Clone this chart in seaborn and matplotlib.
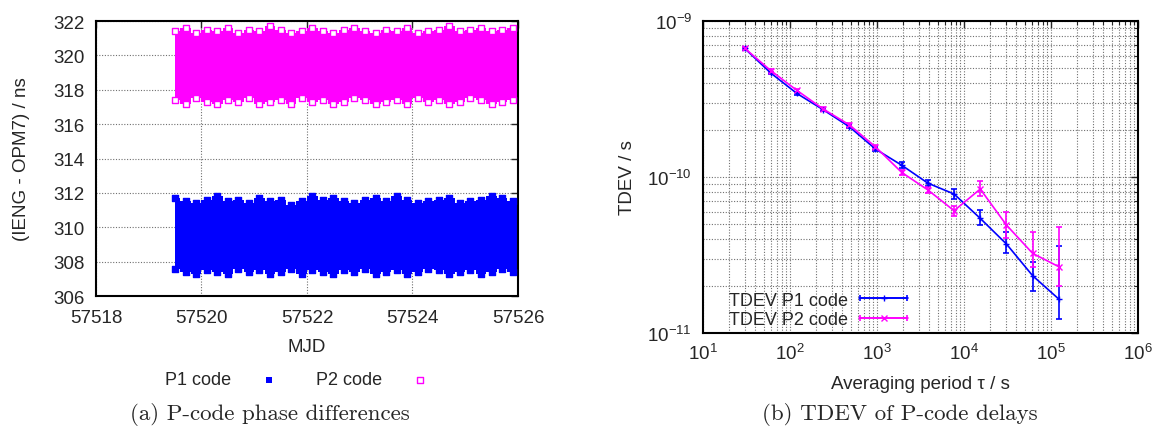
import numpy as np
import matplotlib
matplotlib.use("Agg")
import matplotlib.pyplot as plt
from matplotlib.legend_handler import HandlerErrorbar
from matplotlib.ticker import FixedLocator, LogLocator
import seaborn as sns

# ---- (a) P-code phase differences: envelope of the dense point cloud ----
mjd = [57519.5, 57519.7, 57519.9, 57520.1, 57520.3, 57520.5, 57520.7, 57520.9,
       57521.1, 57521.3, 57521.5, 57521.7, 57521.9, 57522.1, 57522.3, 57522.5,
       57522.7, 57522.9, 57523.1, 57523.3, 57523.5, 57523.7, 57523.9, 57524.1,
       57524.3, 57524.5, 57524.7, 57524.9, 57525.1, 57525.3, 57525.5, 57525.7,
       57525.9, 57526.1]
p1_top = [311.7, 311.5, 311.4, 311.6, 311.8, 311.5, 311.6, 311.4, 311.7, 311.5, 311.6, 311.3,
          311.5, 311.8, 311.6, 311.7, 311.5, 311.4, 311.6, 311.7, 311.5, 311.8, 311.6, 311.4,
          311.5, 311.6, 311.7, 311.4, 311.5, 311.6, 311.8, 311.7, 311.5, 311.4]
p1_bot = [307.6, 307.4, 307.3, 307.5, 307.4, 307.3, 307.6, 307.4, 307.5, 307.3, 307.4, 307.6,
          307.3, 307.5, 307.4, 307.3, 307.5, 307.4, 307.6, 307.3, 307.4, 307.5, 307.3, 307.4,
          307.6, 307.5, 307.3, 307.4, 307.5, 307.3, 307.4, 307.6, 307.4, 307.5]
p2_top = [321.4, 321.6, 321.3, 321.5, 321.4, 321.6, 321.3, 321.5, 321.4, 321.7, 321.5, 321.3,
          321.4, 321.6, 321.4, 321.3, 321.5, 321.6, 321.4, 321.3, 321.5, 321.4, 321.6, 321.3,
          321.4, 321.5, 321.7, 321.4, 321.5, 321.6, 321.4, 321.5, 321.6, 321.3]
p2_bot = [317.4, 317.2, 317.5, 317.3, 317.2, 317.4, 317.3, 317.5, 317.2, 317.3, 317.4, 317.2,
          317.5, 317.3, 317.4, 317.2, 317.3, 317.5, 317.4, 317.2, 317.3, 317.4, 317.2, 317.5,
          317.3, 317.4, 317.2, 317.3, 317.5, 317.4, 317.2, 317.3, 317.4, 317.3]

# ---- (b) TDEV of P-code delays ----
tau = [30, 60, 120, 240, 480, 960, 1920, 3840, 7680, 15360, 30720, 61440, 122880]
tdev_p1 = [6.68e-10, 4.64e-10, 3.43e-10, 2.70e-10, 2.10e-10, 1.51e-10, 1.19e-10,
           9.13e-11, 7.78e-11, 5.43e-11, 3.72e-11, 2.33e-11, 1.65e-11]
p1_lo = [6.55e-10, 4.54e-10, 3.35e-10, 2.64e-10, 2.05e-10, 1.47e-10, 1.14e-10,
         8.70e-11, 7.23e-11, 4.92e-11, 3.26e-11, 1.87e-11, 1.23e-11]
p1_hi = [6.81e-10, 4.74e-10, 3.51e-10, 2.76e-10, 2.15e-10, 1.55e-10, 1.24e-10,
         9.60e-11, 8.38e-11, 6.14e-11, 4.46e-11, 2.84e-11, 3.60e-11]
tdev_p2 = [6.70e-10, 4.81e-10, 3.59e-10, 2.73e-10, 2.16e-10, 1.56e-10, 1.07e-10,
           8.26e-11, 6.08e-11, 8.37e-11, 4.92e-11, 3.24e-11, 2.66e-11]
p2_lo = [6.57e-10, 4.71e-10, 3.51e-10, 2.67e-10, 2.11e-10, 1.52e-10, 1.03e-10,
         7.90e-11, 5.65e-11, 7.59e-11, 4.05e-11, 2.64e-11, 2.01e-11]
p2_hi = [6.83e-10, 4.91e-10, 3.67e-10, 2.79e-10, 2.21e-10, 1.60e-10, 1.11e-10,
         8.65e-11, 6.55e-11, 9.46e-11, 6.00e-11, 4.43e-11, 4.77e-11]
tau_ticks = [1e1, 1e2, 1e3, 1e4, 1e5, 1e6]
tdev_ticks = [1e-11, 1e-10, 1e-9]

BLUE = "#0000ff"
MAGENTA = "#ff00ff"
FS = 13.5

sns.set_style("white")
plt.rcParams["font.family"] = ["Liberation Sans", "DejaVu Sans"]
plt.rcParams["font.size"] = FS

fig = plt.figure(figsize=(11.59, 4.27), dpi=100)
ax1 = fig.add_axes([0.0828, 0.3044, 0.3641, 0.644])
ax2 = fig.add_axes([0.6066, 0.2178, 0.3753, 0.7307])

grid_kw = dict(color="#707070", linestyle=(0, (1, 1.5)), linewidth=0.8)

# --- left panel ---
ax1.fill_between(mjd, p1_bot, p1_top, step="mid", color=BLUE, lw=0)
ax1.fill_between(mjd, p2_bot, p2_top, step="mid", color=MAGENTA, lw=0)
for top, bot, col, filled in [(p1_top, p1_bot, BLUE, True), (p2_top, p2_bot, MAGENTA, False)]:
    sns.scatterplot(x=mjd + mjd, y=top + bot, ax=ax1, marker="s", s=22,
                    color=col if filled else "white", edgecolor=col,
                    linewidth=1.0, legend=False, zorder=3)
ax1.set_xlim(57518, 57526)
ax1.set_ylim(306, 322)
ax1.set_xticks([57518, 57520, 57522, 57524, 57526])
ax1.set_yticks(range(306, 323, 2))
ax1.ticklabel_format(useOffset=False, style="plain")
ax1.grid(True, **grid_kw)
ax1.set_axisbelow(True)
ax1.set_xlabel("MJD", labelpad=9)
ax1.set_ylabel("(IENG - OPM7) / ns", labelpad=17)
ax1.tick_params(axis="x", which="major", pad=9)
ax1.tick_params(axis="y", which="major", pad=8)

h1 = ax1.scatter([], [], marker="s", s=14, color=BLUE, linewidth=0)
h2 = ax1.scatter([], [], marker="s", s=22, facecolor="white", edgecolor=MAGENTA, linewidth=1.0)
fig.legend([h1, h2], ["P1 code", "P2 code"], loc="center", ncol=2,
           bbox_to_anchor=(0.2605, 1 - 381 / 427), frameon=False, markerfirst=False,
           columnspacing=1.6, handletextpad=1.1, handlelength=2.0, fontsize=13)

# --- right panel ---
proxies = []
for y, lo, hi, col, mk, lab in [(tdev_p1, p1_lo, p1_hi, BLUE, "+", "TDEV P1 code"),
                                (tdev_p2, p2_lo, p2_hi, MAGENTA, "x", "TDEV P2 code")]:
    y = np.array(y)
    yerr = [y - np.array(lo), np.array(hi) - y]
    ax2.errorbar(tau, y, yerr=yerr, color=col, marker=mk, markersize=5, lw=1.2,
                 elinewidth=1.2, capsize=2.5, capthick=1.2)
    pr = ax2.errorbar([np.nan], [np.nan], xerr=[[1], [1]], color=col, marker=mk,
                      markersize=5, lw=1.2, elinewidth=1.2, capsize=2.5, capthick=1.2,
                      label=lab)
    proxies.append(pr)
ax2.set_xscale("log")
ax2.set_yscale("log")
ax2.set_xlim(10, 1e6)
ax2.set_ylim(1e-11, 1e-9)
ax2.xaxis.set_major_locator(FixedLocator(tau_ticks))
ax2.yaxis.set_major_locator(FixedLocator(tdev_ticks))
ax2.xaxis.set_minor_locator(LogLocator(base=10, subs=range(2, 10)))
ax2.yaxis.set_minor_locator(LogLocator(base=10, subs=range(2, 10)))
ax2.grid(True, which="both", **grid_kw)
ax2.set_axisbelow(True)
ax2.set_xlabel("Averaging period τ / s", labelpad=9)
ax2.set_ylabel("TDEV / s", labelpad=8)
ax2.tick_params(axis="x", which="major", pad=7)
ax2.tick_params(axis="y", which="major", pad=8)
ax2.tick_params(which="minor", labelleft=False, labelbottom=False)
ax2.legend(proxies, ["TDEV P1 code", "TDEV P2 code"], loc="lower left",
           bbox_to_anchor=(0.04, -0.014), frameon=False, markerfirst=False,
           handlelength=2.7, handletextpad=0.6, borderpad=0, labelspacing=0.15,
           fontsize=13, handler_map={p: HandlerErrorbar(xerr_size=1.3) for p in proxies})

for ax in (ax1, ax2):
    for sp in ax.spines.values():
        sp.set_linewidth(1.5)
        sp.set_color("black")
    ax.tick_params(which="major", direction="in", top=True, right=True, length=5, width=1,
                   labelsize=FS)
    ax.tick_params(which="minor", direction="in", top=True, right=True, length=3, width=0.8)

fig.text(0.2325, 1 - 420 / 427, "(a) P-code phase differences", ha="center", va="baseline",
         family="cmr10", fontsize=16.5)
fig.text(0.7765, 1 - 420 / 427, "(b) TDEV of P-code delays", ha="center", va="baseline",
         family="cmr10", fontsize=16.5)

fig.savefig("out.png", dpi=100)
